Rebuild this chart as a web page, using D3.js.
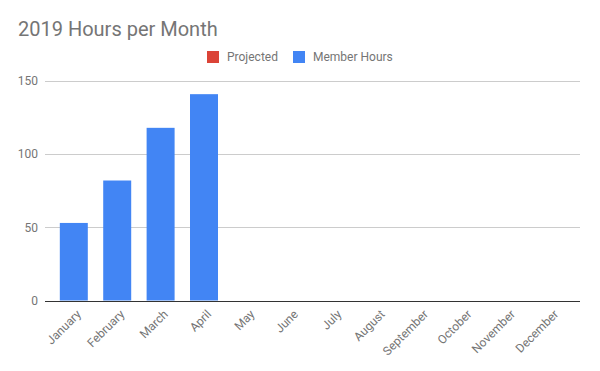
<!DOCTYPE html>
<html>
<head>
<meta charset="utf-8">
<script src="https://cdnjs.cloudflare.com/ajax/libs/d3/7.8.5/d3.min.js"></script>
<style>
  body { margin: 0; background: #fff; }
  text { font-family: Roboto, Arial, sans-serif; }
</style>
</head>
<body>
<svg id="viz" width="600" height="371"></svg>
<script>
// chart data
var months = ["January", "February", "March", "April", "May", "June", "July",
              "August", "September", "October", "November", "December"];
var memberHours = [53, 82, 118, 141, null, null, null, null, null, null, null, null];
var projected = [null, null, null, null, null, null, null, null, null, null, null, null];
var yTicks = [0, 50, 100, 150];
var legendNames = ["Projected", "Member Hours"];
var legendColors = ["#db4437", "#4285f4"];

var svg = d3.select("#viz");

var xBand = d3.scaleBand()
            .domain(months)
            .range([52, 573])
            .paddingInner(0.355)
            .paddingOuter(0.18);

var yScale = d3.scaleLinear()
            .domain([0, 150])
            .range([300.5, 81]);

// gridlines
svg.append("g").selectAll("line")
    .data(yTicks)
    .enter()
    .append("line")
    .attr("x1", 45)
    .attr("x2", 580)
    .attr("y1", d => Math.round(yScale(d)) + 0.5)
    .attr("y2", d => Math.round(yScale(d)) + 0.5)
    .attr("stroke", d => d == 0 ? "#333" : "#ccc")
    .attr("stroke-width", 1);

// y labels
svg.append("g").selectAll("text")
    .data(yTicks)
    .enter()
    .append("text")
    .attr("x", 38)
    .attr("y", d => yScale(d))
    .attr("dy", "0.35em")
    .attr("text-anchor", "end")
    .attr("font-size", 12)
    .attr("fill", "#757575")
    .text(d => d);

// bars
svg.append("g").selectAll("rect")
    .data(months.map((m, i) => ({m: m, v: memberHours[i]})).filter(d => d.v != null))
    .enter()
    .append("rect")
    .attr("x", d => xBand(d.m))
    .attr("width", xBand.bandwidth())
    .attr("y", d => yScale(d.v))
    .attr("height", d => yScale(0) - yScale(d.v))
    .attr("fill", "#4285f4");

// x labels, rotated
svg.append("g").selectAll("text")
    .data(months)
    .enter()
    .append("text")
    .attr("transform", d => "translate(" + (xBand(d) + xBand.bandwidth() / 2 + 5) + ",312) rotate(-45)")
    .attr("text-anchor", "end")
    .attr("dy", "0.35em")
    .attr("font-size", 12)
    .attr("fill", "#757575")
    .text(d => d);

// title
svg.append("text")
    .attr("x", 18)
    .attr("y", 36)
    .attr("font-size", 20)
    .attr("fill", "#757575")
    .text("2019 Hours per Month");

// legend
var legX = [207, 293];
var leg = svg.append("g").selectAll("g")
    .data(legendNames)
    .enter()
    .append("g")
    .attr("transform", (d, i) => "translate(" + legX[i] + ",51)");
leg.append("rect")
    .attr("width", 12)
    .attr("height", 12)
    .attr("fill", (d, i) => legendColors[i]);
leg.append("text")
    .attr("x", 20)
    .attr("y", 6)
    .attr("dy", "0.35em")
    .attr("font-size", 12)
    .attr("fill", "#757575")
    .text(d => d);
</script>
</body>
</html>
